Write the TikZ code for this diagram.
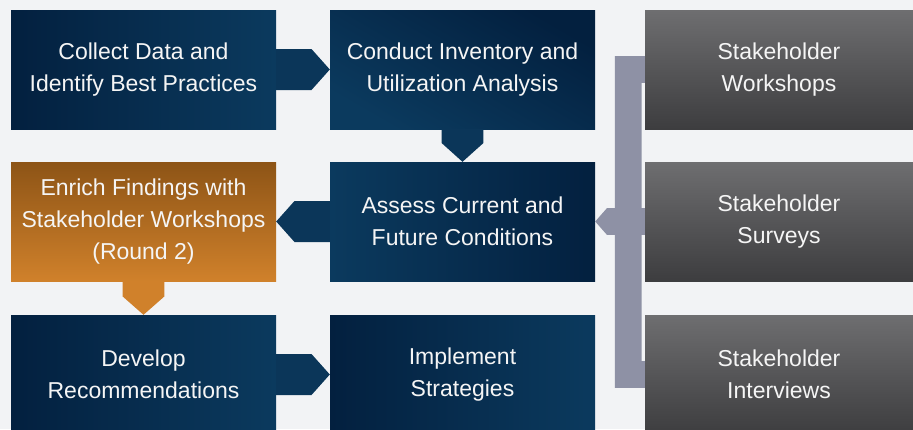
\documentclass[tikz,border=0pt]{standalone}
\usepackage{fontspec}
\setmainfont{Liberation Sans}
\usetikzlibrary{calc}
\definecolor{bg}{HTML}{F2F3F5}
\definecolor{navyD}{HTML}{03203F}
\definecolor{navyL}{HTML}{0B3A5E}
\definecolor{navyA}{HTML}{0B3659}
\definecolor{orD}{HTML}{8D5416}
\definecolor{orL}{HTML}{D0812B}
\definecolor{grT}{HTML}{6E6E70}
\definecolor{grB}{HTML}{3D3D3F}
\definecolor{brk}{HTML}{8E91A5}
\definecolor{txt}{HTML}{F5F5F5}
\begin{document}
\begin{tikzpicture}[x=1pt,y=-1pt,
  box/.style={minimum width=265pt, minimum height=119pt, inner sep=0pt,
    align=center, text=txt, font=\fontsize{23}{32}\selectfont},
  navyLR/.style={box, left color=navyD, right color=navyL},
  navyRL/.style={box, left color=navyL, right color=navyD},
  navyDiag/.style={box, top color=navyD, bottom color=navyL, shading angle=-30},
  orangebox/.style={box, top color=orD, bottom color=orL},
  graybox/.style={box, minimum width=268pt, top color=grT, bottom color=grB},
  blockarrow/.style={fill=navyA},
  orangearrow/.style={fill=orL},
  bracketfill/.style={fill=brk}]
\fill[bg] (0,0) rectangle (913,429);
\useasboundingbox (0,0) rectangle (913,429);

% boxes
\node[navyLR]   (collect)   at (143.5,69.5)  {Collect Data and\\Identify Best Practices};
\node[navyDiag] (conduct)   at (462.5,69.5)  {Conduct Inventory and\\Utilization Analysis};
\node[navyRL]   (assess)    at (462.5,221.5) {Assess Current and\\Future Conditions};
\node[orangebox](enrich)    at (143.5,221.5) {Enrich Findings with\\Stakeholder Workshops\\(Round 2)};
\node[navyLR]   (develop)   at (143.5,374.5) {Develop\\Recommendations};
\node[navyLR]   (implement) at (462.5,374.5) {Implement\\Strategies};
\node[graybox]  (sw) at (779,69.5)  {Stakeholder\\Workshops};
\node[graybox]  (ss) at (779,221.5) {Stakeholder\\Surveys};
\node[graybox]  (si) at (779,374.5) {Stakeholder\\Interviews};

% block arrows
\fill[blockarrow] ($(collect.east)+(0,-20.5)$) -- ($(conduct.west)+(-18.3,-20.5)$)
  -- (conduct.west) -- ($(conduct.west)+(-18.3,20.5)$) -- ($(collect.east)+(0,20.5)$) -- cycle;
\fill[blockarrow] ($(conduct.south)+(-20.8,0)$) -- ($(assess.north)+(-20.8,-18.7)$)
  -- (assess.north) -- ($(assess.north)+(20.8,-18.7)$) -- ($(conduct.south)+(20.8,0)$) -- cycle;
\fill[blockarrow] ($(assess.west)+(0,-20.5)$) -- ($(enrich.east)+(18.3,-20.5)$)
  -- (enrich.east) -- ($(enrich.east)+(18.3,20.5)$) -- ($(assess.west)+(0,20.5)$) -- cycle;
\fill[orangearrow] ($(enrich.south)+(-20.8,0)$) -- ($(develop.north)+(-20.8,-18.3)$)
  -- (develop.north) -- ($(develop.north)+(20.8,-18.3)$) -- ($(enrich.south)+(20.8,0)$) -- cycle;
\fill[blockarrow] ($(develop.east)+(0,-20.5)$) -- ($(implement.west)+(-18.3,-20.5)$)
  -- (implement.west) -- ($(implement.west)+(-18.3,20.5)$) -- ($(develop.east)+(0,20.5)$) -- cycle;

% bracket joining the stakeholder boxes
\fill[bracketfill] ($(sw.west)+(0,-13.3)$) -- ($(sw.west)+(-30,-13.3)$)
  -- ($(si.west)+(-30,13.3)$) -- ($(si.west)+(0,13.3)$) -- ($(si.west)+(0,-13.3)$)
  -- ($(si.west)+(-3.3,-13.3)$) -- ($(sw.west)+(-3.3,13.3)$) -- ($(sw.west)+(0,13.3)$) -- cycle;
\fill[bracketfill] ($(ss.west)+(0,-13.3)$) -- ($(assess.east)+(11.7,-13.3)$)
  -- (assess.east) -- ($(assess.east)+(11.7,13.3)$) -- ($(ss.west)+(0,13.3)$) -- cycle;
\end{tikzpicture}
\end{document}
